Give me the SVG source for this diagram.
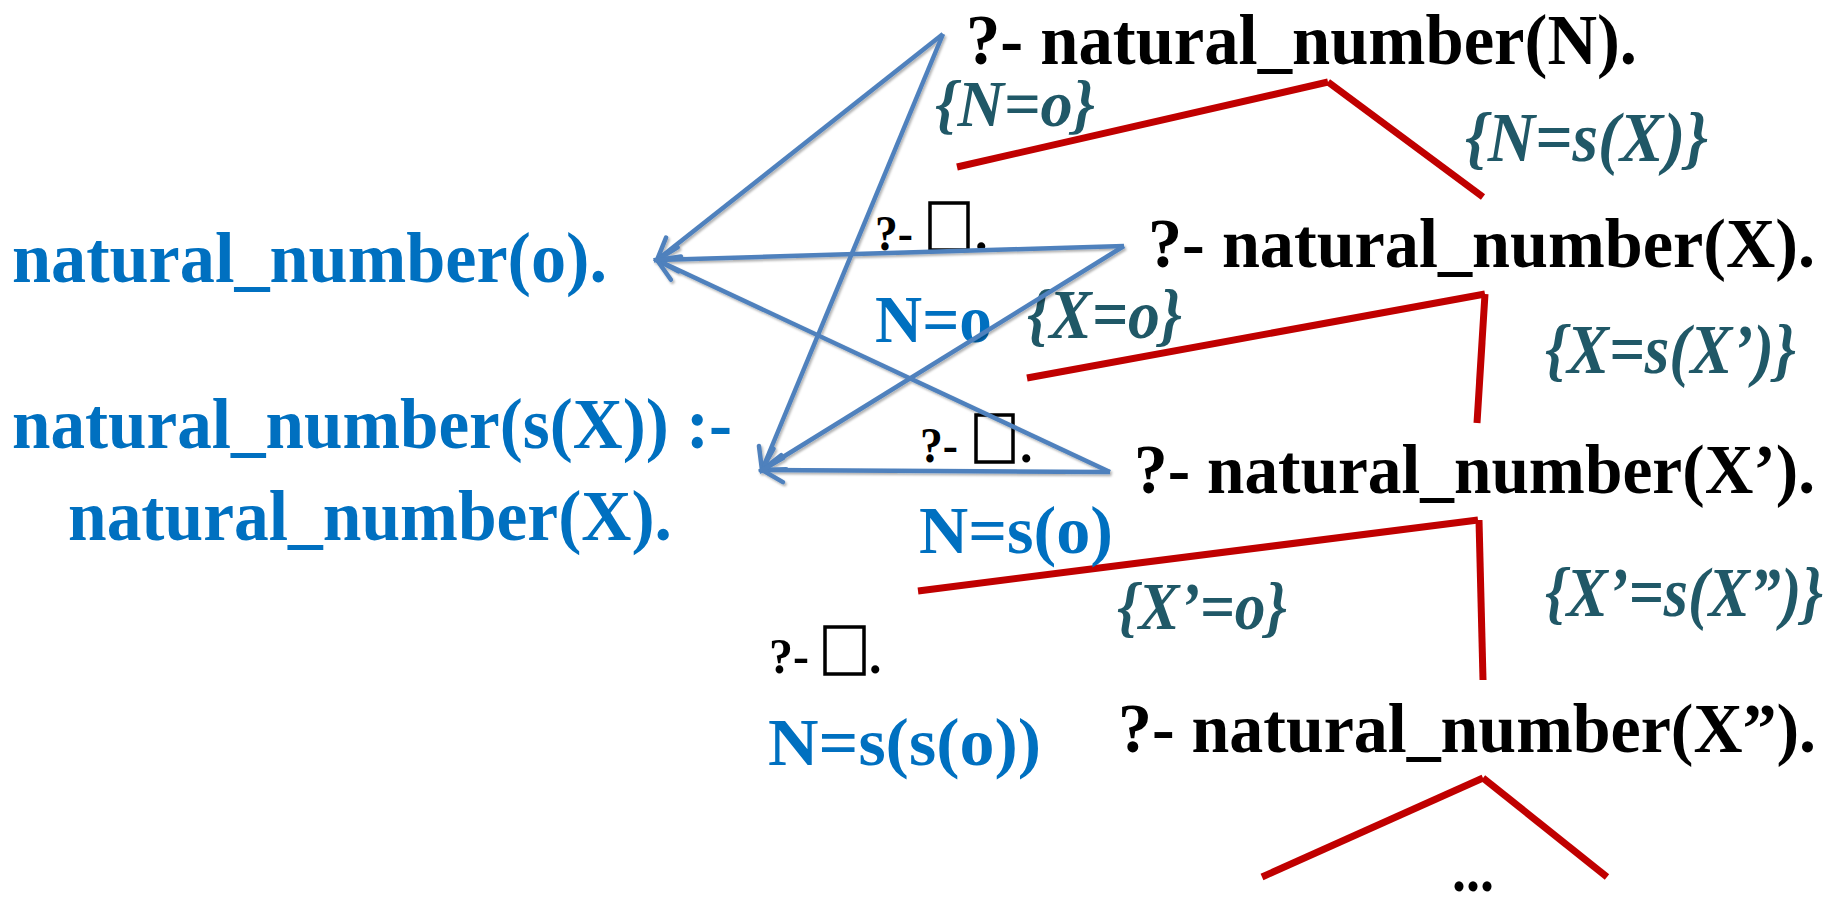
<svg xmlns="http://www.w3.org/2000/svg" width="1837" height="905" viewBox="0 0 1837 905">
<style>
text{font-family:"Liberation Serif","Times New Roman",serif;font-weight:bold}
.q{fill:#000}
.b{fill:#0070c0}
.t{fill:#205867;font-style:italic}
.tree line{stroke:#c00000;stroke-width:7;stroke-linecap:butt}
.arr line{stroke:#4f81bd;stroke-width:4.5;fill:none;marker-end:url(#open)}
.tofu{fill:none;stroke:#000;stroke-width:3.5}
</style>
<defs>
<marker id="open" viewBox="-26 -16 30 32" refX="0" refY="0" markerWidth="30" markerHeight="32" markerUnits="userSpaceOnUse" orient="auto">
<path d="M-21,-12 L0,0 L-21,12" fill="none" stroke="#4f81bd" stroke-width="4.5" stroke-linecap="round"/>
</marker>
<filter id="sh" x="-5%" y="-5%" width="110%" height="110%">
<feDropShadow dx="1.5" dy="2" stdDeviation="1.2" flood-color="#000" flood-opacity="0.3"/>
</filter>
</defs>
<rect width="1837" height="905" fill="#fff"/>

<g id="tree-edges" class="tree">
<line x1="957" y1="167" x2="1328" y2="82"/>
<line x1="1328" y1="82" x2="1483" y2="197"/>
<line x1="1027" y1="378" x2="1485" y2="294"/>
<line x1="1485" y1="294" x2="1477" y2="423"/>
<line x1="918" y1="591" x2="1478" y2="520"/>
<line x1="1479" y1="520" x2="1483" y2="680"/>
<line x1="1262" y1="877" x2="1483" y2="778"/>
<line x1="1483" y1="778" x2="1607" y2="877"/>
</g>

<g id="edge-labels" class="t">
<text x="935" y="126" font-size="66" textLength="160" lengthAdjust="spacingAndGlyphs">{N=o}</text>
<text x="1465" y="161" font-size="70" textLength="243" lengthAdjust="spacingAndGlyphs">{N=s(X)}</text>
<text x="1027" y="338" font-size="69" textLength="155" lengthAdjust="spacingAndGlyphs">{X=o}</text>
<text x="1545" y="373" font-size="69" textLength="251" lengthAdjust="spacingAndGlyphs">{X=s(X’)}</text>
<text x="1117" y="629" font-size="68" textLength="170" lengthAdjust="spacingAndGlyphs">{X’=o}</text>
<text x="1545" y="616" font-size="69" textLength="278" lengthAdjust="spacingAndGlyphs">{X’=s(X”)}</text>
</g>

<g id="q0"><text class="q" x="966" y="64" font-size="71" textLength="671" lengthAdjust="spacingAndGlyphs">?- natural_number(N).</text></g>
<g id="q1"><text class="q" x="1148" y="267" font-size="70" textLength="667" lengthAdjust="spacingAndGlyphs">?- natural_number(X).</text></g>
<g id="q2"><text class="q" x="1134" y="493" font-size="70" textLength="681" lengthAdjust="spacingAndGlyphs">?- natural_number(X’).</text></g>
<g id="q3"><text class="q" x="1118" y="752" font-size="70" textLength="698" lengthAdjust="spacingAndGlyphs">?- natural_number(X”).</text></g>
<g id="more"><text class="q" x="1452" y="891" font-size="64" textLength="42" lengthAdjust="spacingAndGlyphs">...</text></g>

<g id="clause1"><text class="b" x="12" y="282" font-size="72" textLength="595" lengthAdjust="spacingAndGlyphs">natural_number(o).</text></g>
<g id="clause2">
<text class="b" x="12" y="448" font-size="71" textLength="720" lengthAdjust="spacingAndGlyphs">natural_number(s(X)) :-</text>
<text class="b" x="68" y="540" font-size="71" textLength="604" lengthAdjust="spacingAndGlyphs">natural_number(X).</text>
</g>

<g id="answer1">
<text class="q" x="875" y="250" font-size="50" textLength="38" lengthAdjust="spacingAndGlyphs">?-</text>
<rect class="tofu" x="930" y="203" width="38" height="47"/>
<text class="q" x="975" y="250" font-size="50">.</text>
<text class="b" x="875" y="342" font-size="68" textLength="117" lengthAdjust="spacingAndGlyphs">N=o</text>
</g>
<g id="answer2">
<text class="q" x="920" y="462" font-size="50" textLength="38" lengthAdjust="spacingAndGlyphs">?-</text>
<rect class="tofu" x="976" y="415" width="37" height="47"/>
<text class="q" x="1020" y="462" font-size="50">.</text>
<text class="b" x="919" y="553" font-size="68" textLength="194" lengthAdjust="spacingAndGlyphs">N=s(o)</text>
</g>
<g id="answer3">
<text class="q" x="769" y="673" font-size="50" textLength="40" lengthAdjust="spacingAndGlyphs">?-</text>
<rect class="tofu" x="825" y="627" width="39" height="47"/>
<text class="q" x="869" y="673" font-size="50">.</text>
<text class="b" x="768" y="765" font-size="68" textLength="273" lengthAdjust="spacingAndGlyphs">N=s(s(o))</text>
</g>

<g id="connectors" class="arr" filter="url(#sh)">
<line x1="943" y1="34" x2="657" y2="260"/>
<line x1="943" y1="34" x2="762" y2="470"/>
<line x1="1124" y1="246" x2="657" y2="260"/>
<line x1="1124" y1="246" x2="762" y2="470"/>
<line x1="1110" y1="472" x2="657" y2="260"/>
<line x1="1110" y1="472" x2="762" y2="470"/>
</g>
</svg>
